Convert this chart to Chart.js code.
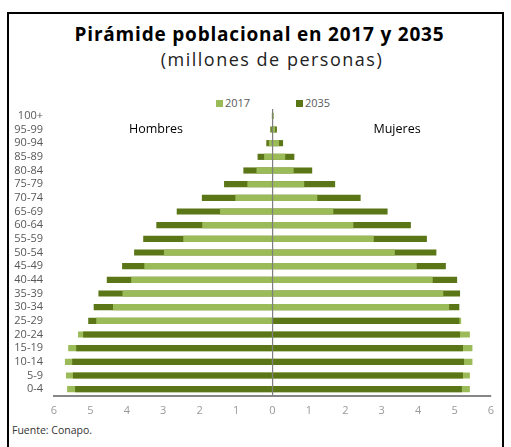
<!DOCTYPE html>
<html><head><meta charset="utf-8">
<script src="https://cdn.jsdelivr.net/npm/chart.js@4.4.1/dist/chart.umd.min.js"></script>
<style>
html,body{margin:0;padding:0;background:#fff;}
#wrap{position:relative;width:511px;height:447px;overflow:hidden;font-family:"Open Sans",sans-serif;}
#frame{position:absolute;left:7px;top:12px;width:497px;height:470px;border:2px solid #000;box-sizing:border-box;}
#title{position:absolute;left:7px;width:505px;top:21px;text-align:center;font-size:19px;font-weight:700;letter-spacing:0.8px;color:#000;white-space:nowrap;}
#subtitle{position:absolute;left:7px;width:530px;top:47px;text-align:center;font-size:18px;letter-spacing:1.5px;color:#222;white-space:nowrap;}
#legend{position:absolute;top:95px;left:216px;font-size:11px;color:#595959;white-space:nowrap;}
#legend span.box{display:inline-block;width:7px;height:7px;margin-right:2px;vertical-align:0px;}
#legend .item{position:absolute;top:0;}
#source{position:absolute;left:12px;top:423px;font-size:10.5px;color:#333;}
canvas{position:absolute;left:0;top:0;}
</style></head>
<body><div id="wrap">
<div id="frame"></div>
<div id="title">Pirámide poblacional en 2017 y 2035</div>
<div id="subtitle">(millones de personas)</div>
<div id="legend"></div>
<div id="source">Fuente: Conapo.</div>
<canvas id="c" width="511" height="447"></canvas>
</div>
<script>
const ageGroups = ['0-4','5-9','10-14','15-19','20-24','25-29','30-34','35-39','40-44','45-49','50-54','55-59','60-64','65-69','70-74','75-79','80-84','85-89','90-94','95-99','100+'];
const hombres2017 = [5.64,5.67,5.70,5.61,5.34,4.84,4.38,4.12,3.88,3.52,2.98,2.45,1.93,1.44,1.02,0.69,0.44,0.23,0.10,0.02,0.01];
const hombres2035 = [5.42,5.48,5.50,5.39,5.20,5.06,4.91,4.78,4.55,4.13,3.80,3.55,3.19,2.63,1.94,1.33,0.80,0.41,0.17,0.06,0.01];
const mujeres2017 = [5.42,5.42,5.49,5.49,5.42,5.18,4.85,4.69,4.40,3.96,3.36,2.78,2.22,1.67,1.23,0.87,0.58,0.35,0.18,0.07,0.02];
const mujeres2035 = [5.20,5.23,5.26,5.23,5.15,5.13,5.13,5.15,5.07,4.76,4.50,4.24,3.80,3.16,2.42,1.72,1.09,0.60,0.29,0.12,0.03];
const xTicks = [-6,-5,-4,-3,-2,-1,0,1,2,3,4,5,6];
const seriesNames = ['2017','2035'];

const COLOR_2017 = '#9BBB59';
const COLOR_2035 = '#5B7617';

// legend (HTML)
const lg = document.getElementById('legend');
lg.innerHTML = '<div class="item" style="left:0"><span class="box" style="background:'+COLOR_2017+'"></span>'+seriesNames[0]+'</div>'+
               '<div class="item" style="left:80px"><span class="box" style="background:'+COLOR_2035+'"></span>'+seriesNames[1]+'</div>';

// build overlapping datasets: larger value behind, smaller in front
function side(a, b, sign){
  const back = [], front = [], backC = [], frontC = [];
  for (let i = 0; i < a.length; i++){
    if (a[i] >= b[i]) { back.push(sign*a[i]); backC.push(COLOR_2017); front.push(sign*b[i]); frontC.push(COLOR_2035); }
    else { back.push(sign*b[i]); backC.push(COLOR_2035); front.push(sign*a[i]); frontC.push(COLOR_2017); }
  }
  return {back, front, backC, frontC};
}
const H = side(hombres2017, hombres2035, -1);
const M = side(mujeres2017, mujeres2035, 1);

const barOpts = {categoryPercentage:1, barPercentage:0.45, borderWidth:0, grouped:false};
const sideLabels = {
  id:'sideLabels',
  afterDraw(chart, args, opts){
    const {ctx, scales:{x,y}} = chart;
    ctx.save();
    ctx.font = '12.5px "Open Sans", sans-serif';
    ctx.fillStyle = '#000';
    ctx.textAlign = 'center';
    ctx.textBaseline = 'middle';
    opts.items.forEach(it => ctx.fillText(it.text, x.getPixelForValue(it.x), y.getPixelForValue(ageGroups.indexOf(it.cat))));
    ctx.restore();
  }
};

Chart.defaults.font.family = '"Open Sans", sans-serif';
new Chart(document.getElementById('c'), {
  type:'bar',
  data:{
    labels: ageGroups,
    datasets:[
      Object.assign({label:'H back', data:H.back, backgroundColor:H.backC, order:2}, barOpts),
      Object.assign({label:'H front', data:H.front, backgroundColor:H.frontC, order:1}, barOpts),
      Object.assign({label:'M back', data:M.back, backgroundColor:M.backC, order:2}, barOpts),
      Object.assign({label:'M front', data:M.front, backgroundColor:M.frontC, order:1}, barOpts)
    ]
  },
  options:{
    indexAxis:'y',
    responsive:false,
    animation:false,
    layout:{padding:{left:0, right:20, top:109, bottom:0}},
    plugins:{
      legend:{display:false},
      tooltip:{enabled:false},
      sideLabels:{items:[{text:'Hombres', x:-3.2, cat:'95-99'},{text:'Mujeres', x:3.42, cat:'95-99'}]}
    },
    scales:{
      x:{
        type:'linear', min:-6, max:6,
        afterBuildTicks(s){ s.ticks = xTicks.map(v => ({value:v})); },
        afterFit(s){ s.height = 51; },
        grid:{drawTicks:false, tickLength:0, lineWidth:1.2, color:c => (c.tick && c.tick.value === 0) ? '#7F7F7F' : 'rgba(0,0,0,0)'},
        border:{display:true, color:'#868686', width:2},
        ticks:{padding:8, color:'#9A9A9A', font:{size:11}, callback:v => String(Math.abs(v))}
      },
      y:{
        type:'category', reverse:true,
        afterFit(s){ s.width = 54; },
        grid:{display:false, drawTicks:false, tickLength:0},
        border:{display:false},
        ticks:{padding:11, color:'#595959', font:{size:11}, autoSkip:false}
      }
    }
  },
  plugins:[sideLabels]
});
</script>
</body></html>
